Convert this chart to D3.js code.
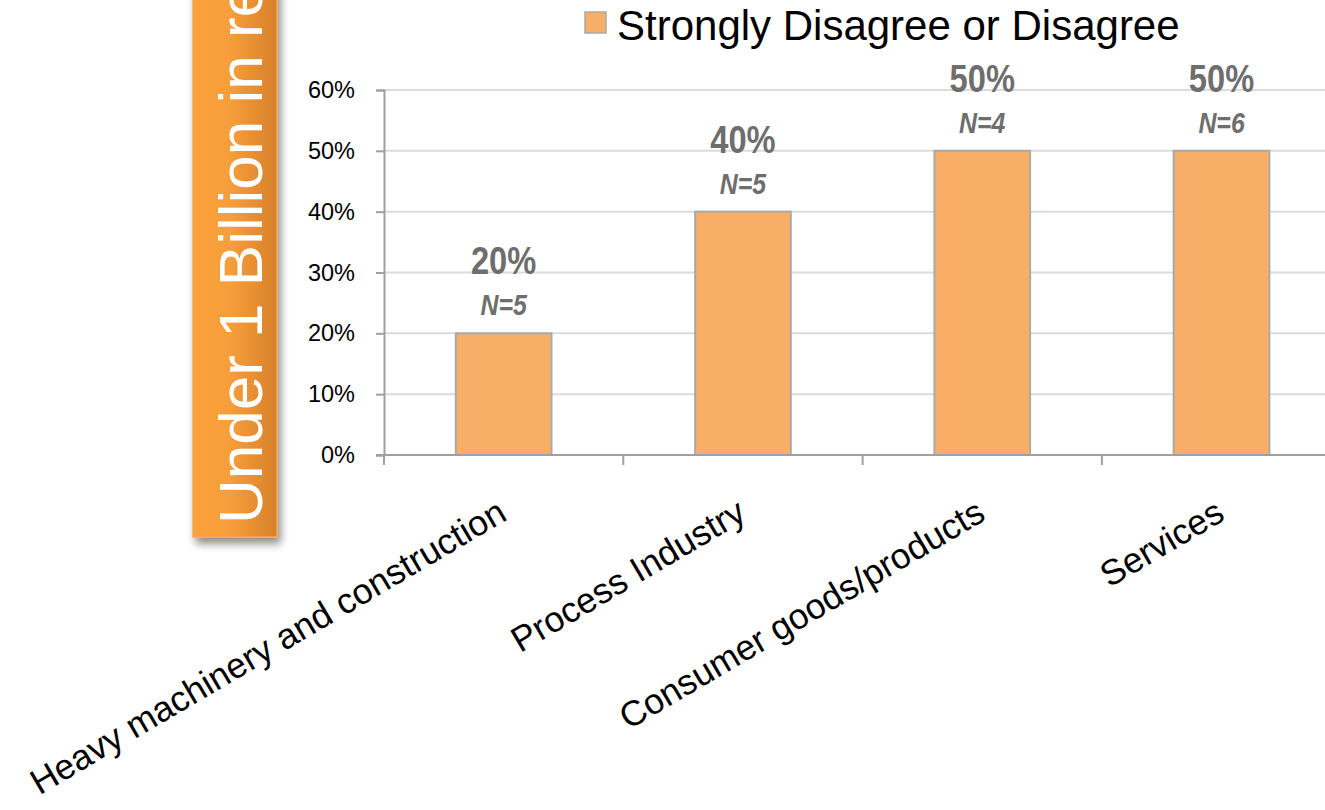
<!DOCTYPE html>
<html>
<head>
<meta charset="utf-8">
<script src="https://cdn.jsdelivr.net/npm/d3@7"></script>
<style>
  html, body { margin: 0; padding: 0; background: #fff; }
  svg { display: block; }
</style>
</head>
<body>
<svg id="chart" width="1325" height="810"></svg>
<script>
// Share of respondents answering "Strongly Disagree or Disagree", by industry
const categories = ["Heavy machinery and construction", "Process Industry", "Consumer goods/products", "Services"];
const shares = [0.20, 0.40, 0.50, 0.50];
const respondents = [5, 5, 4, 6];
const yTicks = [0, 0.1, 0.2, 0.3, 0.4, 0.5, 0.6];
const seriesName = "Strongly Disagree or Disagree";
const bannerText = "Under 1 Billion in revenue";

const svg = d3.select("#chart");

const barFill = "#F9AE68";
const barStroke = "#A9A9A9";
const labelGrey = "#6E6E6E";
const sansFont = "'Liberation Sans', Arial, Helvetica, sans-serif";

// Side banner with a horizontal orange gradient and soft drop shadow
const defs = svg.append("defs");
const grad = defs.append("linearGradient").attr("id", "bannerGrad")
  .attr("x1", "0%").attr("x2", "100%").attr("y1", "0%").attr("y2", "0%");
grad.append("stop").attr("offset", "0%").attr("stop-color", "#FBA23A");
grad.append("stop").attr("offset", "45%").attr("stop-color", "#F69E3A");
grad.append("stop").attr("offset", "100%").attr("stop-color", "#D8802A");
const shadow = defs.append("filter").attr("id", "bannerShadow")
  .attr("x", "-20%").attr("y", "-5%").attr("width", "150%").attr("height", "115%");
shadow.append("feGaussianBlur").attr("in", "SourceAlpha").attr("stdDeviation", 4).attr("result", "blur");
shadow.append("feOffset").attr("in", "blur").attr("dx", 3).attr("dy", 6).attr("result", "off");
shadow.append("feComponentTransfer").attr("in", "off").attr("result", "soft")
  .append("feFuncA").attr("type", "linear").attr("slope", 0.45);
const merge = shadow.append("feMerge");
merge.append("feMergeNode").attr("in", "soft");
merge.append("feMergeNode").attr("in", "SourceGraphic");

const banner = svg.append("g");
banner.append("rect")
  .attr("x", 193).attr("y", -20).attr("width", 84).attr("height", 557)
  .attr("fill", "url(#bannerGrad)")
  .attr("stroke", "#F7A850").attr("stroke-width", 1.5)
  .attr("filter", "url(#bannerShadow)");
banner.append("text")
  .attr("transform", "translate(262,524) rotate(-90)")
  .attr("font-family", sansFont)
  .attr("font-size", 62)
  .attr("fill", "#fff")
  .text(bannerText);

// Plot area
const plotLeft = 384, plotBottom = 455, plotTop = 90;
const step = 239.3;
const x = d3.scaleBand()
  .domain(categories)
  .range([plotLeft, plotLeft + step * categories.length])
  .paddingInner(0.6)
  .paddingOuter(0.3);
const y = d3.scaleLinear().domain([0, 0.6]).range([plotBottom, plotTop]);

// Horizontal gridlines
svg.append("g").selectAll("line")
  .data(yTicks.filter(d => d > 0))
  .join("line")
  .attr("x1", plotLeft).attr("x2", x.range()[1])
  .attr("y1", d => y(d)).attr("y2", d => y(d))
  .attr("stroke", "#DCDCDC").attr("stroke-width", 2);

// Y axis
const yAxis = svg.append("g")
  .attr("transform", `translate(${plotLeft},0)`)
  .call(d3.axisLeft(y).tickValues(yTicks).tickFormat(d3.format(".0%")).tickSize(8).tickPadding(21));
yAxis.select(".domain").attr("stroke", "#A0A0A0").attr("stroke-width", 2);
yAxis.selectAll(".tick line").attr("stroke", "#A0A0A0").attr("stroke-width", 2);
yAxis.selectAll(".tick text")
  .attr("font-family", sansFont).attr("font-size", 23.5).attr("fill", "#000");

// Bars
svg.append("g").selectAll("rect")
  .data(categories)
  .join("rect")
  .attr("x", d => x(d))
  .attr("y", (d, i) => y(shares[i]))
  .attr("width", x.bandwidth())
  .attr("height", (d, i) => y(0) - y(shares[i]))
  .attr("fill", barFill)
  .attr("stroke", barStroke).attr("stroke-width", 2);

// X axis baseline with ticks on category boundaries
const xAxis = svg.append("g");
xAxis.append("line")
  .attr("x1", plotLeft - 8).attr("x2", x.range()[1])
  .attr("y1", plotBottom).attr("y2", plotBottom)
  .attr("stroke", "#A0A0A0").attr("stroke-width", 2);
xAxis.selectAll("line.tick")
  .data(d3.range(categories.length + 1))
  .join("line")
  .attr("class", "tick")
  .attr("x1", i => plotLeft + i * x.step()).attr("x2", i => plotLeft + i * x.step())
  .attr("y1", plotBottom).attr("y2", plotBottom + 10)
  .attr("stroke", "#A0A0A0").attr("stroke-width", 2);

// Rotated category labels
svg.append("g").selectAll("text")
  .data(categories)
  .join("text")
  .attr("transform", d => `translate(${x(d) + x.bandwidth() / 2 + 5},${plotBottom + 64}) rotate(-30.5)`)
  .attr("text-anchor", "end")
  .attr("font-family", sansFont)
  .attr("font-size", 35.5)
  .attr("fill", "#000")
  .text(d => d);

// Value and sample-size labels above bars (condensed bold face)
const labels = svg.append("g");
labels.selectAll("text.value")
  .data(categories)
  .join("text")
  .attr("class", "value")
  .attr("transform", (d, i) => `translate(${x(d) + x.bandwidth() / 2},${y(shares[i]) - 59}) scale(0.86,1)`)
  .attr("text-anchor", "middle")
  .attr("font-family", sansFont)
  .attr("font-weight", "bold")
  .attr("font-size", 38)
  .attr("fill", labelGrey)
  .text((d, i) => d3.format(".0%")(shares[i]));
labels.selectAll("text.n")
  .data(categories)
  .join("text")
  .attr("class", "n")
  .attr("transform", (d, i) => `translate(${x(d) + x.bandwidth() / 2},${y(shares[i]) - 18}) scale(0.83,1)`)
  .attr("text-anchor", "middle")
  .attr("font-family", sansFont)
  .attr("font-weight", "bold")
  .attr("font-style", "italic")
  .attr("font-size", 30)
  .attr("fill", labelGrey)
  .text((d, i) => `N=${respondents[i]}`);

// Legend
const legend = svg.append("g");
legend.append("rect")
  .attr("x", 585).attr("y", 12).attr("width", 21).attr("height", 21)
  .attr("fill", barFill).attr("stroke", barStroke).attr("stroke-width", 1.5);
legend.append("text")
  .attr("x", 617).attr("y", 40)
  .attr("font-family", sansFont)
  .attr("font-size", 42)
  .attr("fill", "#000")
  .text(seriesName);
</script>
</body>
</html>
